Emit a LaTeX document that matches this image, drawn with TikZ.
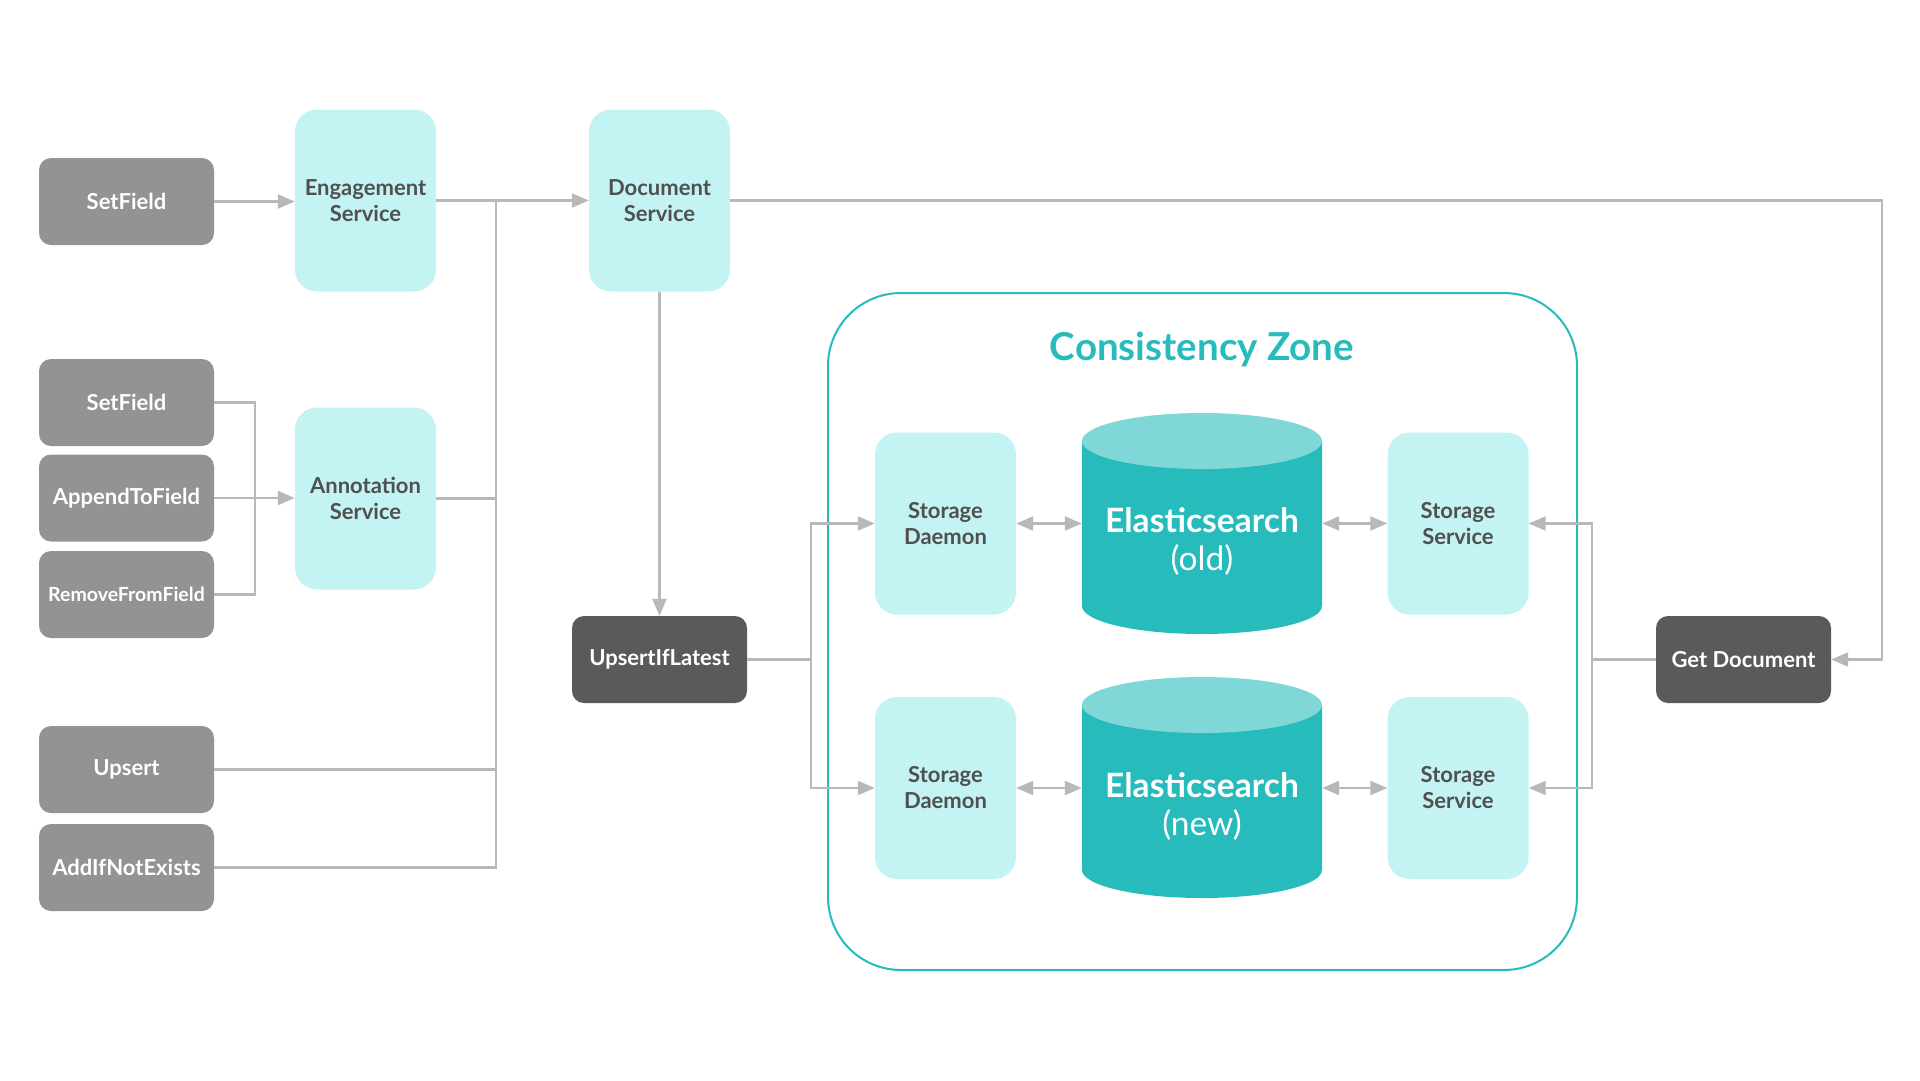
\documentclass[tikz,border=0pt]{standalone}
\usepackage{fontspec}
\setmainfont{Lato}
\usetikzlibrary{arrows.meta}
\definecolor{gbox}{HTML}{939393}
\definecolor{dbox}{HTML}{5A5A5A}
\definecolor{lbox}{HTML}{C4F3F3}
\definecolor{tealA}{HTML}{27BBBB}
\definecolor{tealtop}{HTML}{80D7D7}
\definecolor{lineg}{HTML}{B8B8B8}
\definecolor{txtd}{HTML}{505050}
\begin{document}
\begin{tikzpicture}[x=1pt,y=-1pt,
 graybox/.style={fill=gbox, rounded corners=12pt, minimum width=175pt, minimum height=87pt, text=white, font=\fontsize{22}{26}\selectfont\bfseries, inner sep=0pt},
 darkbox/.style={graybox, fill=dbox},
 svc/.style={fill=lbox, rounded corners=22pt, minimum width=141pt, minimum height=182pt, text=txtd, align=center, font=\fontsize{22}{26}\selectfont\bfseries, inner sep=0pt},
 cylbox/.style={minimum width=240pt, minimum height=221pt, inner sep=0pt},
 cyltext/.style={text=white, align=center, font=\fontsize{33.5}{38}\selectfont},
 conn/.style={draw=lineg, line width=2.2pt},
 arr/.style={conn, -{Triangle[length=17pt,width=14pt]}},
 darr/.style={conn, {Triangle[length=17pt,width=14pt]}-{Triangle[length=17pt,width=14pt]}},
]
\useasboundingbox (0,0) rectangle (1920,1080);

% consistency zone
\node[draw=tealA, line width=2pt, rounded corners=73pt, minimum width=749pt, minimum height=677pt, inner sep=0pt] (zone) at (1202.5,631.5) {};
\node[text=tealA, font=\fontsize{38.5}{44}\selectfont\bfseries] (title) at (1202,349) {Consistency Zone};

% cylinders
\fill[tealA] (1082,441) -- (1082,606) arc[start angle=180, end angle=360, x radius=120pt, y radius=28pt] -- (1322,441) -- cycle;
\fill[tealtop] (1202,441) ellipse[x radius=120pt, y radius=28pt];
\node[cylbox] (es1) at (1202,523.5) {};
\node[cyltext] (es1t) at (1202,541.5) {\textbf{Elasticsearch}\\(old)};

\fill[tealA] (1082,705) -- (1082,870) arc[start angle=180, end angle=360, x radius=120pt, y radius=28pt] -- (1322,705) -- cycle;
\fill[tealtop] (1202,705) ellipse[x radius=120pt, y radius=28pt];
\node[cylbox] (es2) at (1202,788) {};
\node[cyltext] (es2t) at (1202,806) {\textbf{Elasticsearch}\\(new)};

% nodes
\node[graybox] (sf1) at (126.5,201.5) {SetField};
\node[svc] (eng) at (365.5,200.5) {Engagement\\Service};
\node[svc] (doc) at (659.5,200.5) {Document\\Service};
\node[graybox] (sf2) at (126.5,402.5) {SetField};
\node[graybox] (atf) at (126.5,498) {AppendToField};
\node[graybox, font=\fontsize{19.5}{22}\selectfont\bfseries] (rff) at (126.5,594.5) {RemoveFromField};
\node[svc] (ann) at (365.5,498.5) {Annotation\\Service};
\node[graybox] (ups) at (126.5,769.5) {Upsert};
\node[graybox] (aine) at (126.5,867.5) {AddIfNotExists};
\node[darkbox] (uil) at (659.5,659.5) {UpsertIfLatest};
\node[darkbox] (gd) at (1743.5,659.5) {Get Document};
\node[svc] (sd1) at (945.5,523.5) {Storage\\Daemon};
\node[svc] (ss1) at (1458,523.5) {Storage\\Service};
\node[svc] (sd2) at (945.5,788) {Storage\\Daemon};
\node[svc] (ss2) at (1458,788) {Storage\\Service};

% junction points
\coordinate (j1) at (496,200.5);
\coordinate (j2) at (255,498);
\coordinate (j3) at (1882,200.5);
\coordinate (j4) at (811,659.5);
\coordinate (j5) at (1592,659.5);

% connectors
\draw[arr] (sf1.east) -- (sf1.east -| eng.west);
\draw[arr] (eng.east) -- (doc.west);
\draw[conn] (ann.east) -| (j1);
\draw[conn] (ups.east) -| (j1);
\draw[conn] (aine.east) -| (j1);
\draw[conn] (sf2.east) -| (j2);
\draw[conn] (rff.east) -| (j2);
\draw[arr] (atf.east) -- (atf.east -| ann.west);
\draw[arr] (doc.south) -- (uil.north);
\draw[arr] (doc.east) -- (j3) |- (gd.east);
\draw[conn] (uil.east) -- (j4);
\draw[arr] (j4) |- (sd1.west);
\draw[arr] (j4) |- (sd2.west);
\draw[conn] (gd.west) -- (j5);
\draw[arr] (j5) |- (ss1.east);
\draw[arr] (j5) |- (ss2.east);
\draw[darr] (sd1.east) -- (es1.west);
\draw[darr] (es1.east) -- (ss1.west);
\draw[darr] (sd2.east) -- (es2.west);
\draw[darr] (es2.east) -- (ss2.west);
\end{tikzpicture}
\end{document}
